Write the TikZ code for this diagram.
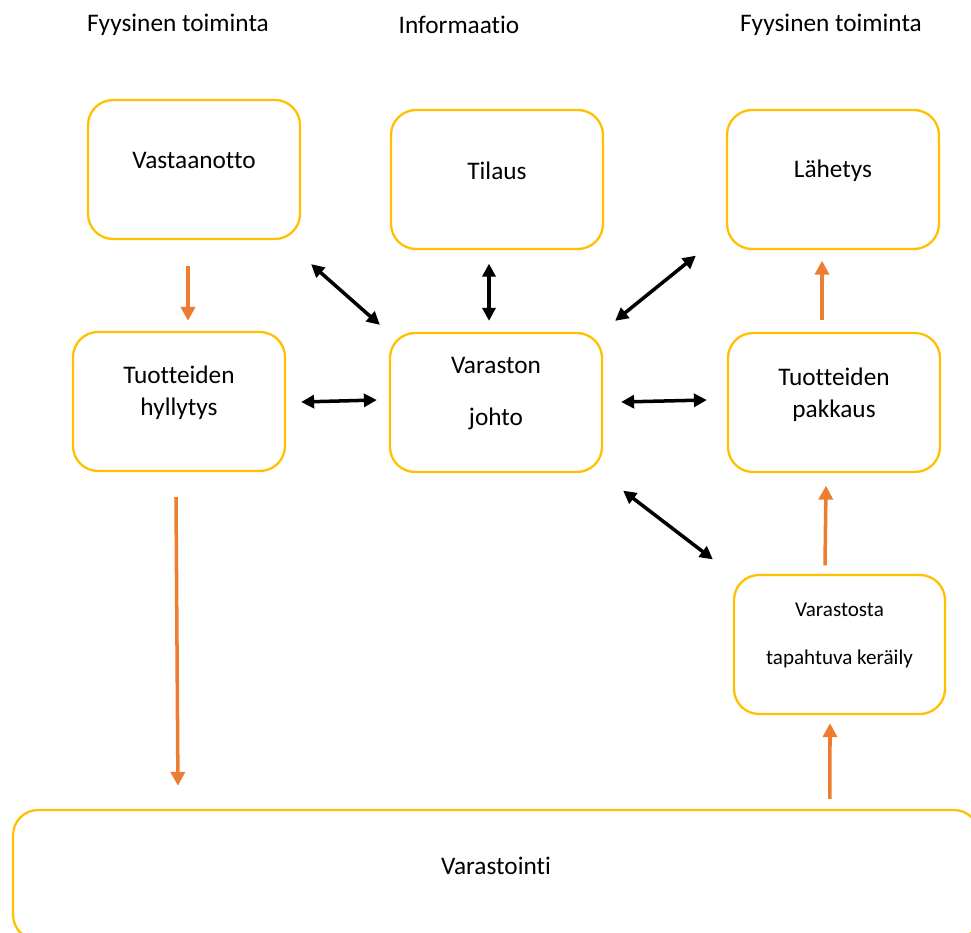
\documentclass[tikz,border=0pt]{standalone}
\usepackage{fontspec}
\setmainfont{Carlito}[Ligatures=NoCommon]
\usetikzlibrary{arrows.meta,calc}
\definecolor{boxyellow}{HTML}{FFC000}
\definecolor{floworange}{HTML}{ED7D31}
\tikzset{
  box/.style={draw=boxyellow,line width=1.3pt,rounded corners=0.5cm,minimum width=4.24cm,minimum height=2.78cm},
  txt/.style={align=center,inner sep=0pt,font=\fontsize{14.4}{18}\selectfont},
  small/.style={align=center,inner sep=0pt,font=\fontsize{12}{14.4}\selectfont},
  flow/.style={floworange,line width=2pt,-{Triangle[length=0.28cm,width=0.28cm]}},
  info/.style={black,line width=2pt,{Triangle[length=0.26cm,width=0.26cm]}-{Triangle[length=0.26cm,width=0.26cm]}}
}
\begin{document}
\begin{tikzpicture}[x=0.02cm,y=-0.02cm]
\useasboundingbox (0,0) rectangle (971,933);
% otsikot
\node[txt] (head1) at (178,25) {Fyysinen toiminta};
\node[txt] (head2) at (459,25) {Informaatio};
\node[txt] (head3) at (831,25) {Fyysinen toiminta};
% laatikot
\node[box] (vast) at (194,169.5) {};
\node[box] (til) at (497,179.5) {};
\node[box] (lah) at (833,179.5) {};
\node[box] (hyll) at (179,401.5) {};
\node[box] (johto) at (496,402.5) {};
\node[box] (pak) at (834,402.5) {};
\node[box,minimum width=4.22cm] (ker) at (839.5,644.5) {};
\node[box,minimum width=19.32cm,minimum height=2.6cm] (stor) at (496,875) {};
% tekstit
\node[txt] (vast-t) at ($(vast)+(0,-9)$) {Vastaanotto};
\node[txt] (til-t) at ($(til)+(0,-9)$) {Tilaus};
\node[txt] (lah-t) at ($(lah)+(0,-9)$) {Lähetys};
\node[txt] (hyll-t) at ($(hyll)+(0,-9)$) {Tuotteiden\\hyllytys};
\node[txt] (johto-t) at ($(johto)+(0,-9)$) {Varaston\\[12pt]johto};
\node[txt] (pak-t) at ($(pak)+(0,-8)$) {Tuotteiden\\pakkaus};
\node[small] (ker-t) at ($(ker)+(0,-9)$) {Varastosta\\[13pt]tapahtuva keräily};
\node[txt] (stor-t) at ($(stor)+(0,-9)$) {Varastointi};
% fyysinen virta
\draw[flow] ($(vast.south)+(-6,26)$) -- ($(hyll.north)+(9,-10)$);
\draw[flow] ($(hyll.south)+(-3,25)$) -- ($(stor.north west)+(166,-23)$);
\draw[flow] ($(stor.north west)+(818,-10)$) -- ($(ker.south)+(-9.5,8)$);
\draw[flow] ($(ker.north)+(-14.5,-8.5)$) -- ($(pak.south)+(-8,12.5)$);
\draw[flow] ($(pak.north)+(-12,-11.5)$) -- ($(lah.south)+(-11,10.5)$);
% informaatio
\draw[info] ($(vast.south east)+(10,24)$) -- ($(johto.north west)+(-9,-7)$);
\draw[info] ($(til.south)+(-8,13.5)$) -- ($(johto.north)+(-7,-11)$);
\draw[info] ($(johto.north east)+(12,-11)$) -- ($(lah.south west)+(-30,5.5)$);
\draw[info] ($(hyll.east)+(15,0.5)$) -- ($(johto.west)+(-12,-2.5)$);
\draw[info] ($(johto.east)+(18,-0.5)$) -- ($(pak.west)+(-20,-2.5)$);
\draw[info] ($(johto.south east)+(20,17.5)$) -- ($(ker.north west)+(-20,-14.5)$);
\end{tikzpicture}
\end{document}
